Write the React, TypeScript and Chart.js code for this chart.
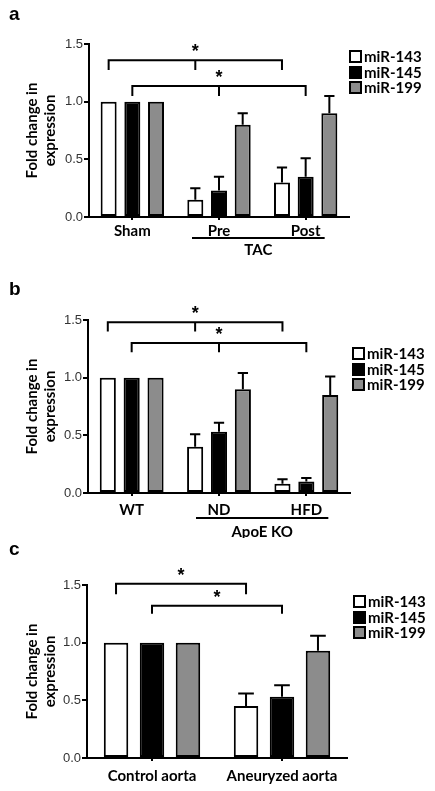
import React, { useEffect, useRef } from 'react';
import { Chart, registerables } from 'chart.js';

Chart.register(...registerables);

// ---------- data ----------
const SERIES = ['miR-143', 'miR-145', 'miR-199'];
const Y_TICKS = [0, 0.5, 1.0, 1.5];

const A_CATS = ['Sham', 'Pre', 'Post'];
const A_143 = [1, 0.15, 0.3];
const A_145 = [1, 0.23, 0.35];
const A_199 = [1, 0.8, 0.9];
const A_143_ERR = [0, 0.1, 0.13];
const A_145_ERR = [0, 0.12, 0.16];
const A_199_ERR = [0, 0.1, 0.15];
const A_GROUP = 'TAC';

const B_CATS = ['WT', 'ND', 'HFD'];
const B_143 = [1, 0.4, 0.08];
const B_145 = [1, 0.53, 0.1];
const B_199 = [1, 0.9, 0.85];
const B_143_ERR = [0, 0.11, 0.04];
const B_145_ERR = [0, 0.08, 0.03];
const B_199_ERR = [0, 0.14, 0.16];
const B_GROUP = 'ApoE KO';

const C_CATS = ['Control aorta', 'Aneuryzed aorta'];
const C_143 = [1, 0.45];
const C_145 = [1, 0.53];
const C_199 = [1, 0.93];
const C_143_ERR = [0, 0.11];
const C_145_ERR = [0, 0.1];
const C_199_ERR = [0, 0.13];

// significance brackets: level / drop in y units, series index, categories joined
const A_BRACKETS = [
  { level: 1.36, drop: 1.275, series: 0, from: 0, to: 2, mid: 1 },
  { level: 1.136, drop: 1.05, series: 1, from: 0, to: 2, mid: 1 },
];
const B_BRACKETS = [
  { level: 1.48, drop: 1.4, series: 0, from: 0, to: 2, mid: 1 },
  { level: 1.3, drop: 1.22, series: 1, from: 0, to: 2, mid: 1 },
];
const C_BRACKETS = [
  { level: 1.51, drop: 1.42, series: 0, from: 0, to: 1 },
  { level: 1.32, drop: 1.25, series: 1, from: 0, to: 1 },
];

// ---------- styles ----------
const LABEL_FONT = 'Lato, "Open Sans", sans-serif';
const TICK_FONT = '"Liberation Sans", Arial, sans-serif';
const FILLS = ['#ffffff', '#000000', '#8c8c8c'];
const W = 435;

type Bracket = { level: number; drop: number; series: number; from: number; to: number; mid?: number };
type Panel = {
  letter: string;
  top: number;
  height: number;
  cats: string[];
  values: number[][];
  errs: number[][];
  brackets: Bracket[];
  group?: { label: string; from: number; to: number; x0: number; x1: number; lineY: number; textY: number };
  area: { left: number; top: number; right: number; bottom: number };
  legend: { x: number; top: number };
  letterBaseline: number;
  catPct: number;
  barPct: number;
  tickPad: number;
};

const PANELS: Panel[] = [
  {
    letter: 'a', top: 0, height: 268, cats: A_CATS,
    values: [A_143, A_145, A_199], errs: [A_143_ERR, A_145_ERR, A_199_ERR],
    brackets: A_BRACKETS,
    group: { label: A_GROUP, from: 1, to: 2, x0: -27, x1: 19, lineY: 238, textY: 250 },
    area: { left: 89, top: 44, right: 349, bottom: 217 },
    legend: { x: 349, top: 50 }, letterBaseline: 20,
    catPct: 0.82, barPct: 0.675, tickPad: 2,
  },
  {
    letter: 'b', top: 268, height: 270, cats: B_CATS,
    values: [B_143, B_145, B_199], errs: [B_143_ERR, B_145_ERR, B_199_ERR],
    brackets: B_BRACKETS,
    group: { label: B_GROUP, from: 1, to: 2, x0: -23, x1: 22, lineY: 250, textY: 264 },
    area: { left: 88, top: 52, right: 350, bottom: 225 },
    legend: { x: 352, top: 79 }, letterBaseline: 27,
    catPct: 0.82, barPct: 0.675, tickPad: 5,
  },
  {
    letter: 'c', top: 538, height: 253, cats: C_CATS,
    values: [C_143, C_145, C_199], errs: [C_143_ERR, C_145_ERR, C_199_ERR],
    brackets: C_BRACKETS,
    area: { left: 87, top: 47, right: 347, bottom: 220 },
    legend: { x: 353, top: 57 }, letterBaseline: 17,
    catPct: 0.83, barPct: 0.68, tickPad: 6,
  },
];

function makeOverlay(p: Panel) {
  return {
    id: 'overlay' + p.letter,
    afterDraw(chart: any) {
      const ctx = chart.ctx as CanvasRenderingContext2D;
      const ys = chart.scales.y;
      const xs = chart.scales.x;
      ctx.save();
      ctx.strokeStyle = '#000';
      ctx.fillStyle = '#000';
      ctx.lineWidth = 2;
      ctx.lineCap = 'butt';
      ctx.lineJoin = 'miter';

      // error bars (upper only)
      p.values.forEach((vals, i) => {
        const meta = chart.getDatasetMeta(i);
        vals.forEach((v, j) => {
          const e = p.errs[i][j];
          if (!e) return;
          const bar = meta.data[j] as any;
          const y1 = ys.getPixelForValue(v + e);
          const cap = bar.width * 0.32;
          ctx.beginPath();
          ctx.moveTo(bar.x, bar.y);
          ctx.lineTo(bar.x, y1);
          ctx.moveTo(bar.x - cap, y1);
          ctx.lineTo(bar.x + cap, y1);
          ctx.stroke();
        });
      });

      // significance brackets
      p.brackets.forEach((b) => {
        const meta = chart.getDatasetMeta(b.series);
        const x1 = (meta.data[b.from] as any).x;
        const x2 = (meta.data[b.to] as any).x;
        const yl = ys.getPixelForValue(b.level);
        const yd = ys.getPixelForValue(b.drop);
        ctx.beginPath();
        ctx.moveTo(x1, yd);
        ctx.lineTo(x1, yl);
        ctx.lineTo(x2, yl);
        ctx.lineTo(x2, yd);
        let xm = (x1 + x2) / 2;
        if (b.mid !== undefined) {
          xm = (meta.data[b.mid] as any).x;
          ctx.moveTo(xm, yl);
          ctx.lineTo(xm, yd);
        }
        ctx.stroke();
        ctx.font = 'bold 18px ' + TICK_FONT;
        ctx.textAlign = 'center';
        ctx.textBaseline = 'alphabetic';
        ctx.fillText('*', xm, yl - 3);
      });

      // group label under x axis
      if (p.group) {
        const g = p.group;
        const gx0 = xs.getPixelForValue(g.from) + g.x0;
        const gx1 = xs.getPixelForValue(g.to) + g.x1;
        ctx.beginPath();
        ctx.moveTo(gx0, g.lineY);
        ctx.lineTo(gx1, g.lineY);
        ctx.stroke();
        ctx.font = 'bold 15px ' + LABEL_FONT;
        ctx.textAlign = 'center';
        ctx.textBaseline = 'middle';
        ctx.fillText(g.label, (gx0 + gx1) / 2, g.textY);
      }

      // panel letter
      ctx.font = 'bold 19px ' + TICK_FONT;
      ctx.textAlign = 'left';
      ctx.textBaseline = 'alphabetic';
      ctx.fillText(p.letter, 9, p.letterBaseline);

      // legend
      const rowH = 15.7;
      SERIES.forEach((name, i) => {
        const y = Math.round(p.legend.top + i * rowH);
        ctx.fillStyle = FILLS[i];
        ctx.fillRect(p.legend.x, y, 13, 13);
        ctx.strokeStyle = '#000';
        ctx.lineWidth = 2;
        ctx.strokeRect(p.legend.x + 1, y + 1, 11, 11);
        ctx.fillStyle = '#000';
        ctx.font = 'bold 15px ' + LABEL_FONT;
        ctx.textAlign = 'left';
        ctx.textBaseline = 'middle';
        ctx.fillText(name, p.legend.x + 15, y + 7);
      });
      ctx.restore();
    },
  };
}

function PanelChart({ p }: { p: Panel }) {
  const ref = useRef<HTMLCanvasElement | null>(null);
  useEffect(() => {
    if (!ref.current) return;
    const chart = new Chart(ref.current, {
      type: 'bar',
      data: {
        labels: p.cats,
        datasets: SERIES.map((name, i) => ({
          label: name,
          data: p.values[i],
          backgroundColor: FILLS[i],
          borderColor: '#000',
          borderWidth: 2,
          borderSkipped: false,
          categoryPercentage: p.catPct,
          barPercentage: p.barPct,
        })),
      },
      options: {
        animation: false,
        responsive: false,
        events: [],
        layout: { padding: { left: 0, top: p.area.top, right: W - p.area.right, bottom: 0 } },
        plugins: { legend: { display: false }, tooltip: { enabled: false }, title: { display: false } },
        scales: {
          x: {
            type: 'category',
            offset: true,
            grid: { offset: false, drawOnChartArea: false, drawTicks: true, tickLength: 3, color: '#000', lineWidth: 2 },
            border: { display: true, color: '#000', width: 2 },
            ticks: {
              color: '#000',
              font: { family: LABEL_FONT, size: 15, weight: 'bold' },
              padding: p.tickPad,
              maxRotation: 0,
              autoSkip: false,
            },
            afterFit: (s: any) => { s.height = p.height - p.area.bottom; },
          },
          y: {
            min: 0,
            max: 1.5,
            afterBuildTicks: (s: any) => { s.ticks = Y_TICKS.map((v) => ({ value: v })); },
            ticks: {
              color: '#333',
              font: { family: TICK_FONT, size: 13 },
              padding: 1,
              callback: (v: any) => Number(v).toFixed(1),
            },
            grid: { drawOnChartArea: false, drawTicks: true, tickLength: 5, color: '#000', lineWidth: 2 },
            border: { display: true, color: '#000', width: 2 },
            title: {
              display: true,
              text: ['Fold change in', 'expression'],
              color: '#000',
              font: { family: LABEL_FONT, size: 15, weight: 'bold', lineHeight: 1.15 },
              padding: { top: 24, bottom: 0 },
            },
            afterFit: (s: any) => { s.width = p.area.left; },
          },
        },
      },
      plugins: [makeOverlay(p)],
    } as any);
    return () => chart.destroy();
  }, [p]);
  return (
    <canvas
      ref={ref}
      width={W}
      height={p.height}
      style={{ position: 'absolute', left: 0, top: p.top, width: W, height: p.height }}
    />
  );
}

export default function App() {
  return (
    <div style={{ position: 'absolute', left: 0, top: 0, width: W, height: 791, background: '#fff' }}>
      {PANELS.map((p) => (
        <PanelChart key={p.letter} p={p} />
      ))}
    </div>
  );
}
